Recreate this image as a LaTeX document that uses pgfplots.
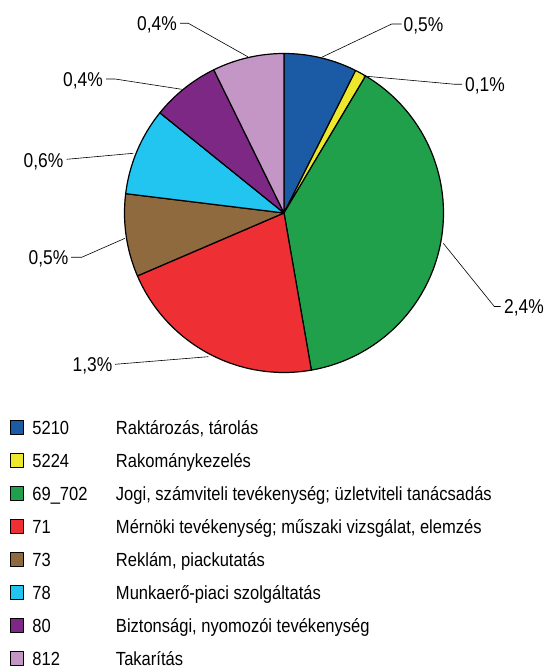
\documentclass[border=0pt]{standalone}
\usepackage{fontspec}
\setmainfont{Liberation Sans}[FakeStretch=0.87]
\usepackage{pgfplots}
\pgfplotsset{compat=1.18}
\definecolor{cBlue}{RGB}{27,91,166}
\definecolor{cYellow}{RGB}{238,232,44}
\definecolor{cGreen}{RGB}{33,160,76}
\definecolor{cRed}{RGB}{238,48,52}
\definecolor{cBrown}{RGB}{142,106,62}
\definecolor{cCyan}{RGB}{34,196,240}
\definecolor{cPurple}{RGB}{124,40,132}
\definecolor{cPink}{RGB}{196,150,198}
% slice values (share, %)
\def\vA{0.46}\def\vB{0.07}\def\vC{2.40}\def\vD{1.32}
\def\vE{0.52}\def\vF{0.55}\def\vG{0.43}\def\vH{0.45}
\pgfmathsetmacro\tot{\vA+\vB+\vC+\vD+\vE+\vF+\vG+\vH}
\pgfmathsetmacro\aA{90-360*\vA/\tot}
\pgfmathsetmacro\aB{\aA-360*\vB/\tot}
\pgfmathsetmacro\aC{\aB-360*\vC/\tot}
\pgfmathsetmacro\aD{\aC-360*\vD/\tot}
\pgfmathsetmacro\aE{\aD-360*\vE/\tot}
\pgfmathsetmacro\aF{\aE-360*\vF/\tot}
\pgfmathsetmacro\aG{\aF-360*\vG/\tot}
\pgfmathsetmacro\aH{\aG-360*\vH/\tot}
\def\R{159.5}
\newcommand\legtxt[2]{\hspace*{8bp}\makebox[83.6bp][l]{#1}#2}
\tikzset{lbl/.style={inner sep=0pt, text height=14.3bp, text depth=0bp, font=\fontsize{20bp}{23bp}\selectfont}}
\begin{document}
\fontsize{19bp}{22bp}\selectfont
\begin{tikzpicture}
\begin{axis}[
  x=1bp, y=1bp, xmin=-284, xmax=262, ymin=-455, ymax=213,
  hide axis, clip=false,
  legend cell align=left,
  legend style={draw=none, fill=none, at={(0.0183,0.3708)}, anchor=north west,
    inner sep=0pt, outer sep=0pt, row sep=18.5bp, column sep=0pt,
    nodes={inner sep=0pt, text height=14bp, text depth=0.5bp, anchor=base west},
    font=\fontsize{19bp}{22bp}\selectfont},
  legend image code/.code={\draw[#1, draw=black, line width=0.9bp] (0bp,0.05bp) rectangle (13.5bp,13.55bp);},
  every axis plot/.append style={line width=1.2bp, line join=round, draw=black, samples=60, variable=\t},
]
\addplot[fill=cBlue, domain=\aA:90] ({\R*cos(\t)},{\R*sin(\t)}) -- (axis cs:0,0) -- cycle;
\addlegendentry{\legtxt{5210}{Raktározás, tárolás}}
\addplot[fill=cYellow, domain=\aB:\aA] ({\R*cos(\t)},{\R*sin(\t)}) -- (axis cs:0,0) -- cycle;
\addlegendentry{\legtxt{5224}{Rakománykezelés}}
\addplot[fill=cGreen, domain=\aC:\aB] ({\R*cos(\t)},{\R*sin(\t)}) -- (axis cs:0,0) -- cycle;
\addlegendentry{\legtxt{69\_702}{Jogi, számviteli tevékenység; üzletviteli tanácsadás}}
\addplot[fill=cRed, domain=\aD:\aC] ({\R*cos(\t)},{\R*sin(\t)}) -- (axis cs:0,0) -- cycle;
\addlegendentry{\legtxt{71}{Mérnöki tevékenység; műszaki vizsgálat, elemzés}}
\addplot[fill=cBrown, domain=\aE:\aD] ({\R*cos(\t)},{\R*sin(\t)}) -- (axis cs:0,0) -- cycle;
\addlegendentry{\legtxt{73}{Reklám, piackutatás}}
\addplot[fill=cCyan, domain=\aF:\aE] ({\R*cos(\t)},{\R*sin(\t)}) -- (axis cs:0,0) -- cycle;
\addlegendentry{\legtxt{78}{Munkaerő-piaci szolgáltatás}}
\addplot[fill=cPurple, domain=\aG:\aF] ({\R*cos(\t)},{\R*sin(\t)}) -- (axis cs:0,0) -- cycle;
\addlegendentry{\legtxt{80}{Biztonsági, nyomozói tevékenység}}
\addplot[fill=cPink, domain=\aH:\aG] ({\R*cos(\t)},{\R*sin(\t)}) -- (axis cs:0,0) -- cycle;
\addlegendentry{\legtxt{812}{Takarítás}}
% leader lines
\addplot[forget plot, line width=0.6bp, fill=none] coordinates {(37.7,155.7) (107.7,189) (117.7,189)};
\addplot[forget plot, line width=0.6bp, fill=none] coordinates {(79.3,137) (171,128.7) (178,128.7)};
\addplot[forget plot, line width=0.6bp, fill=none] coordinates {(159.3,-30.3) (210.3,-93.5) (216.5,-93.5)};
\addplot[forget plot, line width=0.6bp, fill=none] coordinates {(-75.7,-143.7) (-169,-151.3)};
\addplot[forget plot, line width=0.6bp, fill=none] coordinates {(-159,-25.3) (-202.3,-44.3) (-213,-44.3)};
\addplot[forget plot, line width=0.6bp, fill=none] coordinates {(-150.7,59.7) (-217.3,53.7)};
\addplot[forget plot, line width=0.6bp, fill=none] coordinates {(-102.3,123.7) (-169,134) (-178,134)};
\addplot[forget plot, line width=0.6bp, fill=none] coordinates {(-36.3,156.3) (-95.7,189.7) (-104,189.7)};
% labels
\node[lbl, anchor=west] at (axis cs:119.5,189) {0,5\%};
\node[lbl, anchor=west] at (axis cs:181,128.5) {0,1\%};
\node[lbl, anchor=west] at (axis cs:220,-93.5) {2,4\%};
\node[lbl, anchor=east] at (axis cs:-171.5,-151.3) {1,3\%};
\node[lbl, anchor=east] at (axis cs:-215.5,-44.3) {0,5\%};
\node[lbl, anchor=east] at (axis cs:-220.5,53) {0,6\%};
\node[lbl, anchor=east] at (axis cs:-181,134) {0,4\%};
\node[lbl, anchor=east] at (axis cs:-107,189.7) {0,4\%};
\path (axis cs:-284,213) rectangle (axis cs:262,-455);
\end{axis}
\end{tikzpicture}
\end{document}
